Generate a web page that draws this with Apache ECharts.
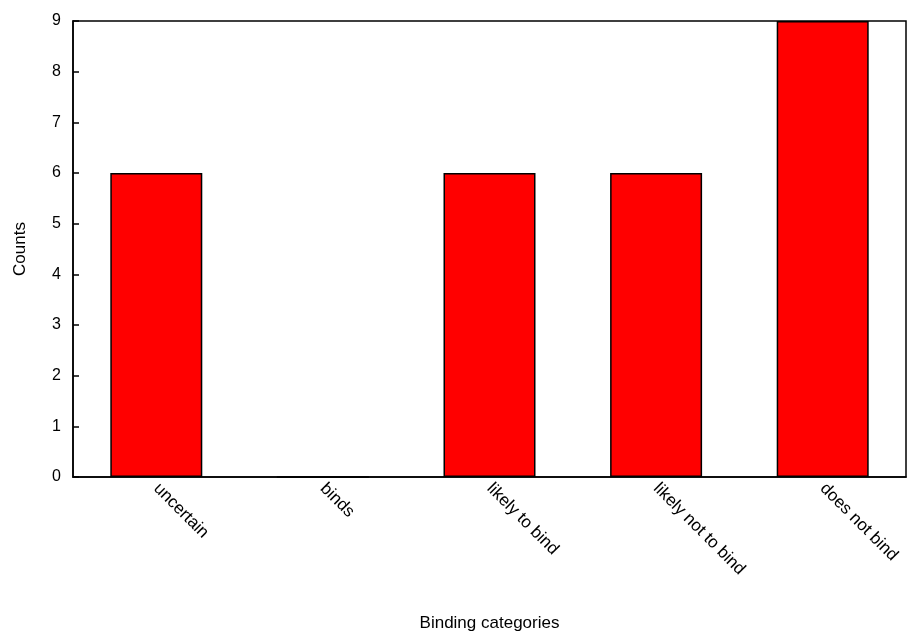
<!DOCTYPE html>
<html>
<head>
<meta charset="utf-8">
<script src="https://cdn.jsdelivr.net/npm/echarts@6/dist/echarts.min.js"></script>
<style>
  html, body { margin: 0; padding: 0; background: #fff; }
  #chart { width: 911px; height: 638px; }
</style>
</head>
<body>
<div id="chart"></div>
<script>
// Binding category counts
const categories = ['uncertain', 'binds', 'likely to bind', 'likely not to bind', 'does not bind'];
const counts = [6, 0, 6, 6, 9];
const yTicks = { min: 0, max: 9, interval: 1 };

const font = 'Liberation Sans, Helvetica, Arial, sans-serif';
const chart = echarts.init(document.getElementById('chart'), null, { renderer: 'canvas' });

chart.setOption({
  animation: false,
  backgroundColor: '#ffffff',
  grid: {
    left: 73, right: 5, top: 21, height: 456,
    show: true, borderColor: '#000', borderWidth: 1.5, backgroundColor: 'transparent'
  },
  xAxis: {
    type: 'category',
    data: categories,
    name: 'Binding categories',
    nameLocation: 'middle',
    nameGap: 138,
    nameTextStyle: { fontFamily: font, fontSize: 17, color: '#000' },
    axisLine: { show: true, lineStyle: { color: '#000', width: 1.5 } },
    axisTick: { show: false },
    axisLabel: {
      rotate: -45, interval: 0, margin: 9,
      fontFamily: font, fontSize: 17, color: '#000'
    },
    splitLine: { show: false }
  },
  yAxis: {
    type: 'value',
    min: yTicks.min, max: yTicks.max, interval: yTicks.interval,
    name: 'Counts',
    nameLocation: 'middle',
    nameGap: 44,
    nameRotate: 90,
    nameTextStyle: { fontFamily: font, fontSize: 17, color: '#000' },
    axisLine: { show: true, lineStyle: { color: '#000', width: 1.5 } },
    axisTick: { show: true, inside: true, length: 6, lineStyle: { color: '#000', width: 1.5 } },
    axisLabel: { fontFamily: font, fontSize: 16, color: '#000', margin: 12 },
    splitLine: { show: false }
  },
  series: [{
    type: 'bar',
    data: counts,
    barWidth: 92,
    itemStyle: { color: '#ff0000', borderColor: '#000', borderWidth: 1.5 }
  }]
});
</script>
</body>
</html>
